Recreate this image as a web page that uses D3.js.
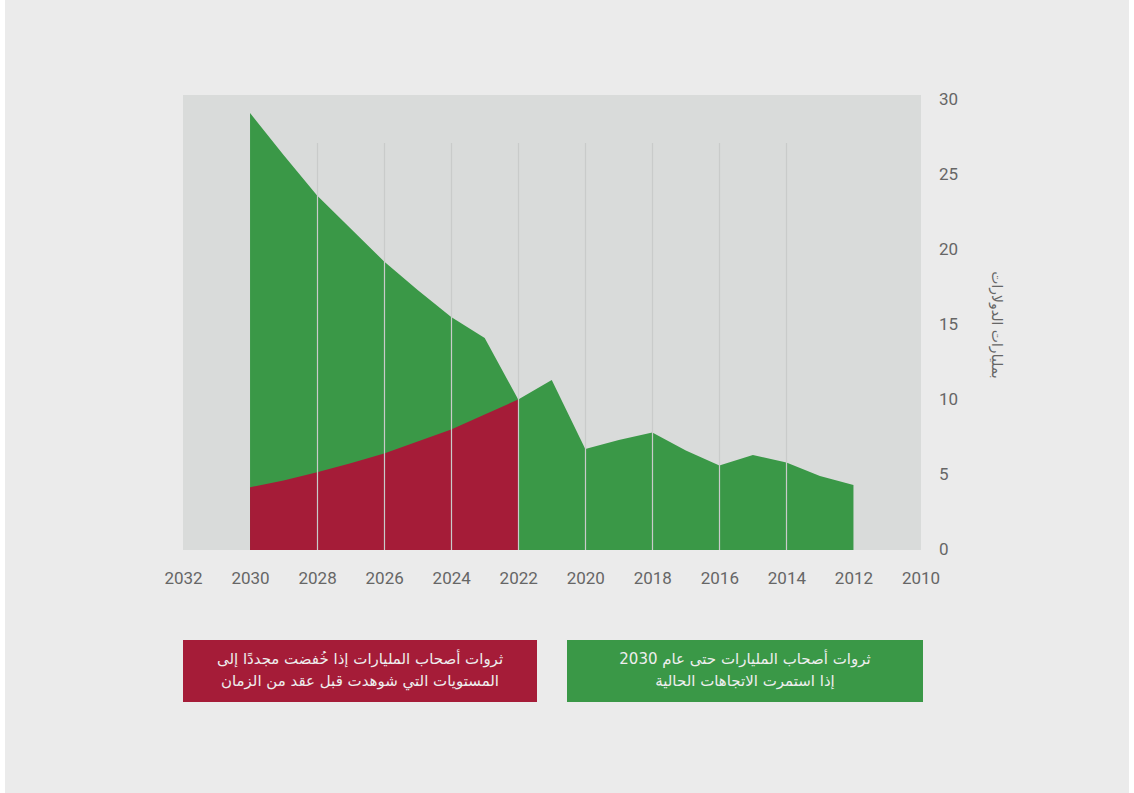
<!DOCTYPE html>
<html>
<head>
<meta charset="utf-8">
<script src="https://cdn.jsdelivr.net/npm/d3@7"></script>
<style>
  html, body { margin: 0; padding: 0; background: #ffffff; }
  svg { display: block; }
</style>
</head>
<body>
<svg id="chart" width="1134" height="793"></svg>
<script>
// ---- data ----
const greenYears = [2030, 2029, 2028, 2027, 2026, 2025, 2024, 2023, 2022, 2021, 2020, 2019, 2018, 2017, 2016, 2015, 2014, 2013, 2012];
const greenValues = [29.1, 26.3, 23.6, 21.4, 19.2, 17.3, 15.5, 14.1, 10.0, 11.3, 6.7, 7.3, 7.8, 6.6, 5.6, 6.3, 5.8, 4.9, 4.3];
const redYears = [2030, 2029, 2028, 2027, 2026, 2025, 2024, 2023, 2022];
const redValues = [4.15, 4.6, 5.15, 5.75, 6.4, 7.2, 8.0, 9.0, 10.0];
const xTicks = [2032, 2030, 2028, 2026, 2024, 2022, 2020, 2018, 2016, 2014, 2012, 2010];
const yTicks = [0, 5, 10, 15, 20, 25, 30];
const gridYears = [2028, 2026, 2024, 2022, 2020, 2018, 2016, 2014];
const yTitle = "بمليارات الدولارات";
const redLegend = ["ثروات أصحاب المليارات إذا خُفضت مجددًا إلى", "المستويات التي شوهدت قبل عقد من الزمان"];
const greenLegend = ["ثروات أصحاب المليارات حتى عام 2030", "إذا استمرت الاتجاهات الحالية"];

const GREEN = "#3a9847", RED = "#a51c38";
const svg = d3.select("#chart");

svg.append("rect").attr("x", 5).attr("y", 0).attr("width", 1124).attr("height", 793).attr("fill", "#ebebeb");

const x = d3.scaleLinear().domain([2032, 2010]).range([183, 920.5]);
const y = d3.scaleLinear().domain([0, 30]).range([549.5, 99.5]);

// plot background
svg.append("rect").attr("x", 183).attr("y", 95).attr("width", 921 - 183).attr("height", 550 - 95).attr("fill", "#d9dbda");

const green = greenYears.map((d, i) => ({ year: d, v: greenValues[i] }));
const red = redYears.map((d, i) => ({ year: d, v: redValues[i] }));

const area = d3.area().x(d => x(d.year)).y0(y(0) + 0.5).y1(d => y(d.v));
svg.append("path").datum(green).attr("d", area).attr("fill", GREEN);
svg.append("path").datum(red).attr("d", area).attr("fill", RED);

// grid lines on top
svg.append("g").selectAll("line").data(gridYears).join("line")
  .attr("x1", d => Math.round(x(d)) + 0.5).attr("x2", d => Math.round(x(d)) + 0.5)
  .attr("y1", y(27.1)).attr("y2", y(0) + 0.5)
  .attr("stroke", "#c9cbca").attr("stroke-width", 1.2);

const tickFont = "'Liberation Sans Narrow', 'Roboto', sans-serif";

// x axis
const xAxis = d3.axisBottom(x).tickValues(xTicks).tickFormat(d3.format("d")).tickSize(0).tickPadding(0);
const gx = svg.append("g").attr("transform", "translate(0,572)").call(xAxis);
gx.select(".domain").remove();
gx.selectAll("text").attr("dy", "0.71em").attr("fill", "#666").style("font-family", tickFont).style("font-size", "17px");

// y axis
const yAxis = d3.axisRight(y).tickValues(yTicks).tickSize(0).tickPadding(0);
const gy = svg.append("g").attr("transform", "translate(939,0)").call(yAxis);
gy.select(".domain").remove();
gy.selectAll("text").attr("fill", "#666").style("font-family", tickFont).style("font-size", "17px");

// y title
svg.append("text")
  .attr("transform", "translate(992,325) rotate(90)")
  .attr("text-anchor", "middle")
  .attr("direction", "rtl")
  .attr("fill", "#666")
  .style("font-family", "'DejaVu Sans', sans-serif")
  .style("font-size", "14px")
  .text(yTitle);

// legend boxes
function legend(x0, w, color, lines) {
  svg.append("rect").attr("x", x0).attr("y", 640).attr("width", w).attr("height", 62).attr("fill", color);
  lines.forEach((t, i) => {
    svg.append("text")
      .attr("x", x0 + w / 2).attr("y", 664 + i * 22)
      .attr("text-anchor", "middle")
      .attr("direction", "rtl")
      .attr("fill", "#eeeeee")
      .style("font-family", "'DejaVu Sans', sans-serif")
      .style("font-size", "15px")
      .text(t);
  });
}
legend(183, 354, RED, redLegend);
legend(567, 356, GREEN, greenLegend);
</script>
</body>
</html>
